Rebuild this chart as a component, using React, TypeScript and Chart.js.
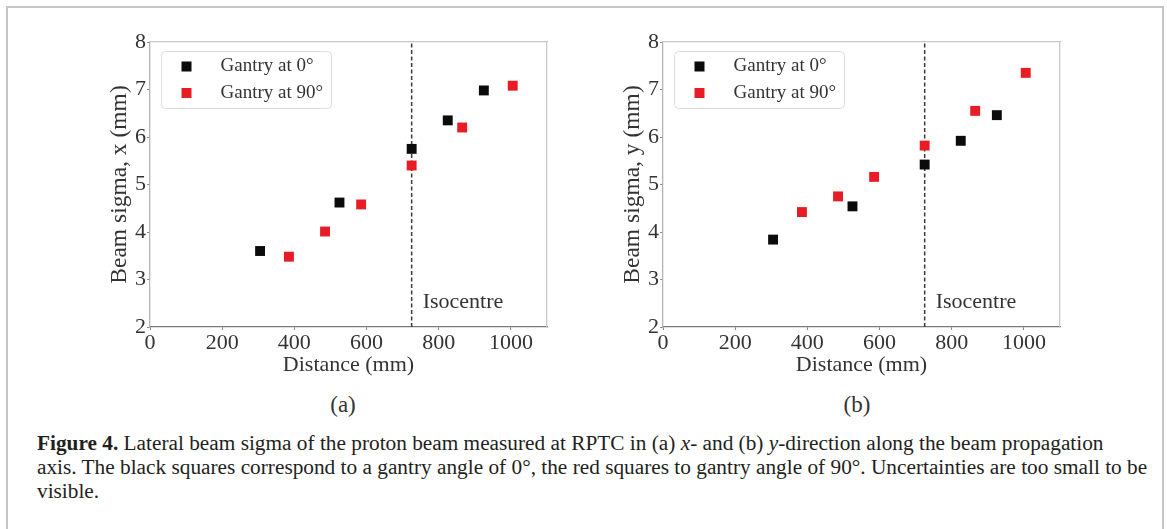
import { useEffect, useRef } from "react";
import { Chart, registerables } from "chart.js";

Chart.register(...registerables);

// Measurement positions along the beam axis (mm)
const distanceGantry0 = [305, 525, 725, 825, 925];
const distanceGantry90 = [385, 485, 585, 725, 865, 1005];

// Lateral beam sigma in x (mm)
const sigmaXGantry0 = [3.6, 4.62, 5.75, 6.35, 6.98];
const sigmaXGantry90 = [3.48, 4.01, 4.58, 5.4, 6.2, 7.08];

// Lateral beam sigma in y (mm)
const sigmaYGantry0 = [3.84, 4.54, 5.42, 5.92, 6.46];
const sigmaYGantry90 = [4.42, 4.75, 5.16, 5.82, 6.55, 7.35];

const seriesLabels = ["Gantry at 0°", "Gantry at 90°"];
const isocentreDistance = 725;
const isocentreLabel = "Isocentre";
const xAxisTitle = "Distance (mm)";
const yAxisTitles = ["Beam sigma, x (mm)", "Beam sigma, y (mm)"];
const panelLabels = ["(a)", "(b)"];

const FONT = "'Liberation Serif', 'Times New Roman', serif";
const TEXT = "#333333";
const BLACK = "#0b0b0b";
const RED = "#e81c24";

const CANVAS_W = 560;
const CANVAS_H = 380;

const panelPlugin = {
  id: "panelExtras",
  afterDatasetsDraw(chart: any) {
    const { ctx, chartArea } = chart;
    ctx.save();
    // legend box
    const x0 = Math.round(chartArea.left + 11) + 0.5;
    const y0 = Math.round(chartArea.top + 9) + 0.5;
    const w = 170;
    const h = 57;
    ctx.beginPath();
    ctx.roundRect(x0, y0, w, h, 4);
    ctx.fillStyle = "rgba(255,255,255,0.85)";
    ctx.fill();
    ctx.strokeStyle = "#dcdcdc";
    ctx.lineWidth = 1;
    ctx.stroke();
    const items = chart.data.datasets.filter((d: any) => d.label);
    items.forEach((ds: any, i: number) => {
      const cy = y0 + 15 + i * 26.5;
      ctx.fillStyle = ds.backgroundColor;
      ctx.fillRect(x0 + 25 - 5, cy - 5, 10, 10);
      ctx.fillStyle = TEXT;
      ctx.font = `19px ${FONT}`;
      ctx.textBaseline = "middle";
      ctx.textAlign = "left";
      ctx.fillText(ds.label, x0 + 59, cy);
    });
    // isocentre label
    const lx = chart.scales.x.getPixelForValue(isocentreDistance) + 11;
    ctx.font = `22px ${FONT}`;
    ctx.textBaseline = "alphabetic";
    ctx.fillStyle = TEXT;
    ctx.fillText(isocentreLabel, lx, chartArea.bottom - 19);
    ctx.restore();
  },
};

function makeConfig(zero: number[], ninety: number[], yTitle: string): any {
  return {
    type: "scatter",
    data: {
      datasets: [
        {
          label: seriesLabels[0],
          data: distanceGantry0.map((x, i) => ({ x, y: zero[i] })),
          backgroundColor: BLACK,
          borderColor: BLACK,
          borderWidth: 0,
          pointStyle: "rect",
          pointRadius: 7,
        },
        {
          label: seriesLabels[1],
          data: distanceGantry90.map((x, i) => ({ x, y: ninety[i] })),
          backgroundColor: RED,
          borderColor: RED,
          borderWidth: 0,
          pointStyle: "rect",
          pointRadius: 7,
        },
        {
          label: "",
          data: [
            { x: isocentreDistance, y: 2 },
            { x: isocentreDistance, y: 8 },
          ],
          showLine: true,
          borderColor: "#3a3a3a",
          borderWidth: 1.5,
          borderDash: [4, 2.5],
          pointRadius: 0,
        },
      ],
    },
    options: {
      responsive: false,
      animation: false,
      devicePixelRatio: 1,
      layout: { padding: { left: 0, top: 42, right: 13, bottom: 0 } },
      plugins: { legend: { display: false }, tooltip: { enabled: false } },
      scales: {
        x: {
          type: "linear",
          position: "bottom",
          min: 0,
          max: 1100,
          afterFit: (s: any) => {
            s.height = 53;
          },
          ticks: {
            stepSize: 200,
            includeBounds: false,
            color: TEXT,
            padding: 0,
            maxRotation: 0,
            font: { family: FONT, size: 22 },
            callback: (v: any) => String(v),
          },
          grid: { display: true, drawOnChartArea: false, tickLength: 3, tickColor: "#888" },
          border: { color: "#7a7a7a", width: 1.3 },
          title: {
            display: true,
            text: xAxisTitle,
            color: TEXT,
            font: { family: FONT, size: 22 },
            padding: { top: 0, bottom: 2 },
          },
        },
        y: {
          type: "linear",
          position: "left",
          min: 2,
          max: 8,
          afterFit: (s: any) => {
            s.width = 150;
          },
          ticks: {
            stepSize: 1,
            color: TEXT,
            padding: 1,
            font: { family: FONT, size: 22 },
            callback: (v: any) => String(v),
          },
          grid: { display: true, drawOnChartArea: false, tickLength: 3, tickColor: "#888" },
          border: { color: "#b4b4b4", width: 1.3 },
          title: {
            display: true,
            text: yTitle,
            color: TEXT,
            font: { family: FONT, size: 23.5 },
            padding: { top: 106, bottom: 0 },
          },
        },
        xTop: {
          type: "linear",
          position: "top",
          afterFit: (s: any) => {
            s.height = 0;
          },
          ticks: { display: false },
          grid: { display: false },
          border: { color: "#c8c8c8", width: 1.3 },
        },
        yRight: {
          type: "linear",
          position: "right",
          afterFit: (s: any) => {
            s.width = 0;
          },
          ticks: { display: false },
          grid: { display: false },
          border: { color: "#c8c8c8", width: 1.3 },
        },
      },
    },
    plugins: [panelPlugin],
  };
}

function Panel({ zero, ninety, yTitle, left }: { zero: number[]; ninety: number[]; yTitle: string; left: number }) {
  const ref = useRef<HTMLCanvasElement | null>(null);
  useEffect(() => {
    if (!ref.current) return;
    const chart = new Chart(ref.current, makeConfig(zero, ninety, yTitle));
    return () => chart.destroy();
  }, [zero, ninety, yTitle]);
  return (
    <canvas
      ref={ref}
      width={CANVAS_W}
      height={CANVAS_H}
      style={{ position: "absolute", left, top: 0, width: CANVAS_W, height: CANVAS_H }}
    />
  );
}

export default function App() {
  return (
    <div
      style={{
        position: "absolute",
        left: 0,
        top: 0,
        width: 1167,
        height: 529,
        overflow: "hidden",
        background: "#fff",
      }}
    >
      <div
        style={{
          position: "absolute",
          left: 6,
          top: 6,
          width: 1158,
          height: 523,
          boxSizing: "border-box",
          borderTop: "2px solid #c6c6c6",
          borderLeft: "2px solid #c6c6c6",
          borderRight: "2px solid #c6c6c6",
        }}
      />
      <Panel zero={sigmaXGantry0} ninety={sigmaXGantry90} yTitle={yAxisTitles[0]} left={0} />
      <Panel zero={sigmaYGantry0} ninety={sigmaYGantry90} yTitle={yAxisTitles[1]} left={513} />
      {panelLabels.map((t, i) => (
        <div
          key={t}
          style={{
            position: "absolute",
            left: i === 0 ? 293 : 807,
            top: 391,
            width: 100,
            textAlign: "center",
            fontFamily: FONT,
            fontSize: 23,
            lineHeight: "28px",
            color: TEXT,
          }}
        >
          {t}
        </div>
      ))}
      <div
        style={{
          position: "absolute",
          left: 37,
          top: 431,
          fontFamily: FONT,
          fontSize: 21.3,
          lineHeight: "24px",
          color: "#231f20",
          whiteSpace: "nowrap",
        }}
      >
        <b>Figure 4.</b> Lateral beam sigma of the proton beam measured at RPTC in (a) <i>x</i>- and (b){" "}
        <i>y</i>-direction along the beam propagation
        <br />
        axis. The black squares correspond to a gantry angle of 0°, the red squares to gantry angle of 90°. Uncertainties are too small to be
        <br />
        visible.
      </div>
    </div>
  );
}
